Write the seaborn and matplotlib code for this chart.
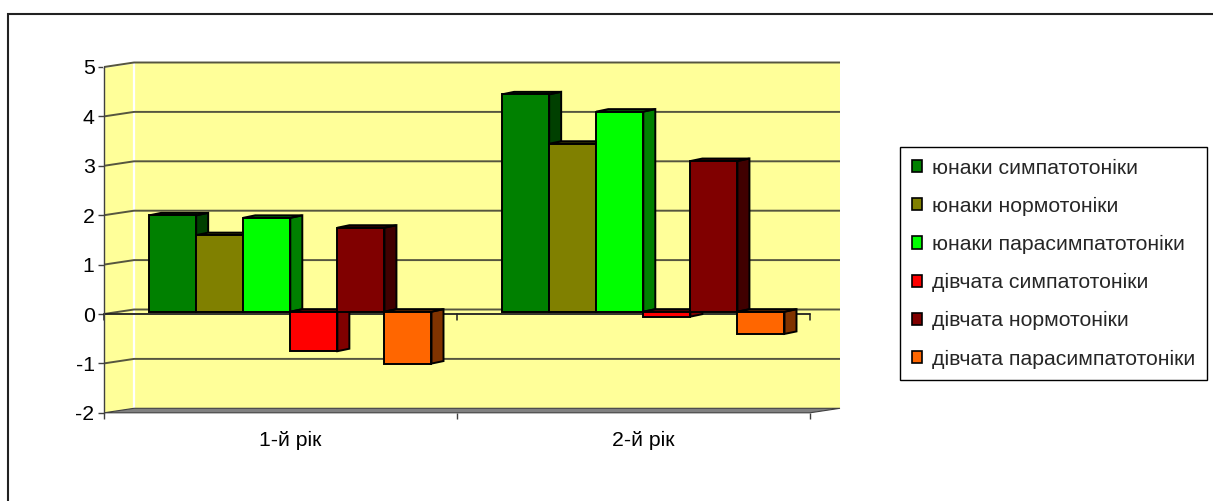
import numpy as np
import pandas as pd
import matplotlib
matplotlib.use("Agg")
import matplotlib.pyplot as plt
import matplotlib.transforms as mtransforms
from matplotlib.patches import Polygon, Rectangle, Patch
import seaborn as sns

# ---- data -------------------------------------------------------------
years = ["1-й рік", "2-й рік"]
series = ["юнаки симпатотоніки", "юнаки нормотоніки", "юнаки парасимпатотоніки",
          "дівчата симпатотоніки", "дівчата нормотоніки", "дівчата парасимпатотоніки"]
values_year1 = [1.95, 1.55, 1.9, -0.8, 1.7, -1.05]
values_year2 = [4.4, 3.4, 4.05, -0.1, 3.05, -0.45]
colors = ["#008000", "#808000", "#00FF00", "#FF0000", "#800000", "#FF6600"]
yticks = [-2, -1, 0, 1, 2, 3, 4, 5]

df = pd.DataFrame({
    "year": np.repeat(years, len(series)),
    "group": series * len(years),
    "value": values_year1 + values_year2,
})

sns.set_theme(style="white")
plt.rcParams["font.family"] = ["Liberation Sans", "DejaVu Sans"]
FS = 15.3

# ---- figure / axes geometry (pixels) ------------------------------------
W, H = 1213, 501
fig = plt.figure(figsize=(W / 100, H / 100), dpi=100)

px_per_cat = 353.0      # horizontal pixels per category
px_per_unit = 49.4      # vertical pixels per value unit
left_px = 104.0         # x of the value axis
floor_px = 412.8        # y (from top) of value -2
xlim = (-0.5, len(years) - 0.5 + 0.12)
ylim = (min(yticks), max(yticks) + 0.2)

ax = fig.add_axes([left_px / W, (H - floor_px) / H,
                   (xlim[1] - xlim[0]) * px_per_cat / W,
                   (ylim[1] - ylim[0]) * px_per_unit / H])
ax.patch.set_visible(False)

# depth of the walls and of the bars, in data units
wall_dx, wall_dy = 30 / px_per_cat, 4.5 / px_per_unit
bar_dx, bar_dy = 12 / px_per_cat, 2.5 / px_per_unit

x_lo, x_hi = -0.5, len(years) - 0.5
y_lo, y_hi = min(yticks), max(yticks)
wall_color = "#FFFF99"
grid_color = "#56563f"

# side wall and back wall
ax.add_patch(Polygon([(x_lo, y_lo), (x_lo, y_hi), (x_lo + wall_dx, y_hi + wall_dy),
                      (x_lo + wall_dx, y_lo + wall_dy)],
                     closed=True, facecolor=wall_color, edgecolor="none", zorder=0.5, clip_on=False))
ax.add_patch(Rectangle((x_lo + wall_dx, y_lo + wall_dy), x_hi - x_lo, y_hi - y_lo,
                       facecolor=wall_color, edgecolor="none", zorder=0.5, clip_on=False))
# white corner edges of the walls
ax.plot([x_lo + wall_dx, x_lo + wall_dx], [y_lo + wall_dy, y_hi + wall_dy],
        color="white", lw=1.6, zorder=0.8, clip_on=False)
ax.plot([x_lo, x_lo + wall_dx], [y_hi, y_hi + wall_dy],
        color="white", lw=1.6, zorder=0.8, clip_on=False)

# gridlines on both walls
for v in yticks[1:]:
    ax.plot([x_lo, x_lo + wall_dx, x_hi + wall_dx], [v, v + wall_dy, v + wall_dy],
            color=grid_color, lw=1.4, zorder=1, clip_on=False, solid_capstyle="butt")

# floor
ax.add_patch(Polygon([(x_lo, y_lo), (x_hi, y_lo), (x_hi + wall_dx, y_lo + wall_dy),
                      (x_lo + wall_dx, y_lo + wall_dy)],
                     closed=True, facecolor="#808080", edgecolor="#404040", lw=0.8,
                     zorder=1.2, clip_on=False))

# category axis along the zero level
ax.plot([x_lo, x_hi], [0, 0], color="#202020", lw=1.3, zorder=1.5, clip_on=False)
boundaries = np.arange(len(years) + 1) - 0.5
for b in boundaries:
    ax.plot([b, b], [0, -6 / px_per_unit], color="#202020", lw=1.1, zorder=1.5, clip_on=False)

# ---- bars -------------------------------------------------------------
sns.barplot(data=df, x="year", y="value", hue="group", order=years, hue_order=series,
            palette=colors, saturation=1, width=0.8, gap=0, errorbar=None,
            edgecolor="black", linewidth=1.4, legend=False, ax=ax)

# bars sit a little inside the depth of the plot
shift = mtransforms.offset_copy(ax.transData, fig=fig, x=9.8, y=2.3, units="dots")

bars = sorted([p for c in ax.containers for p in c], key=lambda p: p.get_x())
for i, p in enumerate(bars):
    x, w = p.get_x(), p.get_width()
    y0, h = p.get_y(), p.get_height()
    bottom, top = min(y0, y0 + h), max(y0, y0 + h)
    rgb = np.array(p.get_facecolor()[:3])
    dark = tuple(rgb * 0.5)
    z = 3 + 2 * i
    side = Polygon([(x + w, bottom), (x + w + bar_dx, bottom + bar_dy),
                    (x + w + bar_dx, top + bar_dy), (x + w, top)],
                   closed=True, facecolor=dark, edgecolor="black", lw=1.4,
                   joinstyle="miter", zorder=z, transform=shift)
    cap = Polygon([(x, top), (x + w, top), (x + w + bar_dx, top + bar_dy), (x + bar_dx, top + bar_dy)],
                  closed=True, facecolor=dark, edgecolor="black", lw=1.4,
                  joinstyle="miter", zorder=z, transform=shift)
    ax.add_patch(side)
    ax.add_patch(cap)
    p.set_transform(shift)
    p.set_zorder(z + 1)
    p.set_joinstyle("miter")

# ---- axes -------------------------------------------------------------
ax.set_xlim(*xlim)
ax.set_ylim(*ylim)
ax.set_xlabel("")
ax.set_ylabel("")
for s in ["top", "right", "bottom"]:
    ax.spines[s].set_visible(False)
ax.spines["left"].set_visible(True)
ax.spines["left"].set_bounds(y_lo, y_hi)
ax.spines["left"].set_color("#404040")
ax.spines["left"].set_linewidth(1.0)
ax.spines["left"].set_zorder(2)

ax.set_yticks(yticks)
ax.set_yticklabels([str(t) for t in yticks])
ax.tick_params(axis="y", direction="out", length=4.3, width=1.0, color="#404040",
               pad=2.5, labelsize=FS, labelcolor="black", left=True)

ax.set_xticks(range(len(years)))
ax.set_xticklabels(years)
ax.set_xticks(boundaries, minor=True)
ax.tick_params(axis="x", which="major", length=0, pad=13, labelsize=FS, labelcolor="black")
ax.tick_params(axis="x", which="minor", direction="out", length=4, width=1.0,
               color="#404040", bottom=True)
label_shift = mtransforms.ScaledTranslation(10 / 100, 0, fig.dpi_scale_trans)
for lbl in ax.get_xticklabels():
    lbl.set_transform(lbl.get_transform() + label_shift)
ax.grid(False)

# ---- legend -----------------------------------------------------------
handles = [Patch(facecolor=c, edgecolor="black", linewidth=1.2) for c in colors]
leg = fig.legend(handles, series, loc="upper left",
                 bbox_to_anchor=(900 / W, 1 - 147 / H), bbox_transform=fig.transFigure,
                 frameon=True, fancybox=False, shadow=False, framealpha=1,
                 edgecolor="black", fontsize=FS, handlelength=0.5, handleheight=0.5,
                 handletextpad=0.45, labelspacing=0.9, borderpad=0.55, borderaxespad=0)
leg.get_frame().set_linewidth(1.0)

# ---- outer frame ------------------------------------------------------
fig.add_artist(Rectangle((8 / W, -0.1), 1.2, 1.1 - 14 / H, transform=fig.transFigure,
                         fill=False, edgecolor="#222222", lw=1.5))

fig.savefig("out.png", dpi=100)
